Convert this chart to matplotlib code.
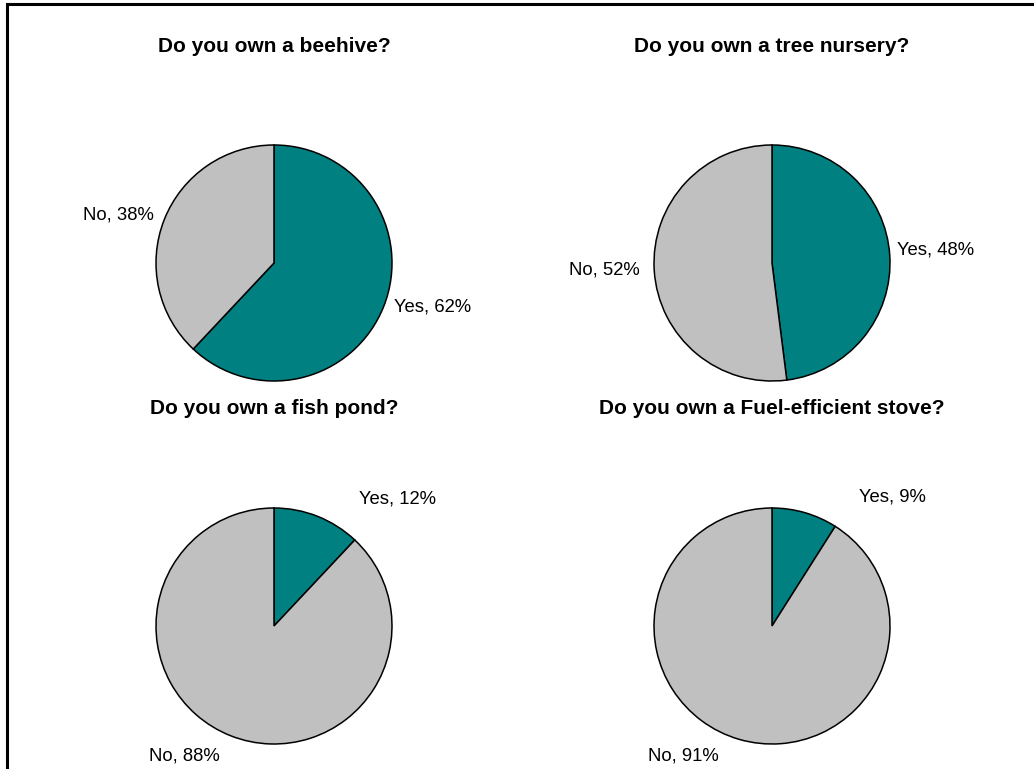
import numpy as np
import matplotlib.pyplot as plt
from matplotlib.patches import Rectangle

plt.rcParams['font.family'] = ['Liberation Sans', 'DejaVu Sans']

titles = ['Do you own a beehive?', 'Do you own a tree nursery?',
          'Do you own a fish pond?', 'Do you own a Fuel-efficient stove?']
categories = ['Yes', 'No']
yes_pct = [62, 48, 12, 9]
no_pct = [38, 52, 88, 91]

# label positions in pie radius units (yes, no)
label_pos = [[(1.34, -0.37), (-1.32, 0.41)],
             [(1.39, 0.11), (-1.42, -0.06)],
             [(1.05, 1.08), (-0.76, -1.10)],
             [(1.02, 1.09), (-0.75, -1.10)]]

colors = ['#008080', '#C0C0C0']
W, H = 1034, 769
fig = plt.figure(figsize=(W / 100, H / 100), dpi=100)

# chart border (cropped at right and bottom)
fig.patches.append(Rectangle((7 / W, -0.1), 1.2, 1 - 4.5 / H + 0.1,
                             transform=fig.transFigure, fill=False,
                             edgecolor='black', linewidth=2.2))

centers = [(274, 263), (772, 263), (274, 626), (772, 626)]
title_y = [47, 47, 408, 408]
R = 118

for i in range(4):
    cx, cy = centers[i]
    ax = fig.add_axes([(cx - R) / W, (H - cy - R) / H, 2 * R / W, 2 * R / H])
    vals = [yes_pct[i], no_pct[i]]
    ax.pie(vals, colors=colors, startangle=90, counterclock=False, radius=1,
           wedgeprops=dict(edgecolor='black', linewidth=1.1))
    ax.set_xlim(-1, 1)
    ax.set_ylim(-1, 1)
    ax.set_aspect('equal')
    ax.axis('off')
    for j in range(2):
        x, y = label_pos[i][j]
        ax.text(x, y, '%s, %d%%' % (categories[j], vals[j]), ha='center',
                va='center', fontsize=13.3, clip_on=False)
    fig.text(cx / W, 1 - title_y[i] / H, titles[i], ha='center', va='center',
             fontsize=15, fontweight='bold')

fig.savefig('out.png', dpi=100)
